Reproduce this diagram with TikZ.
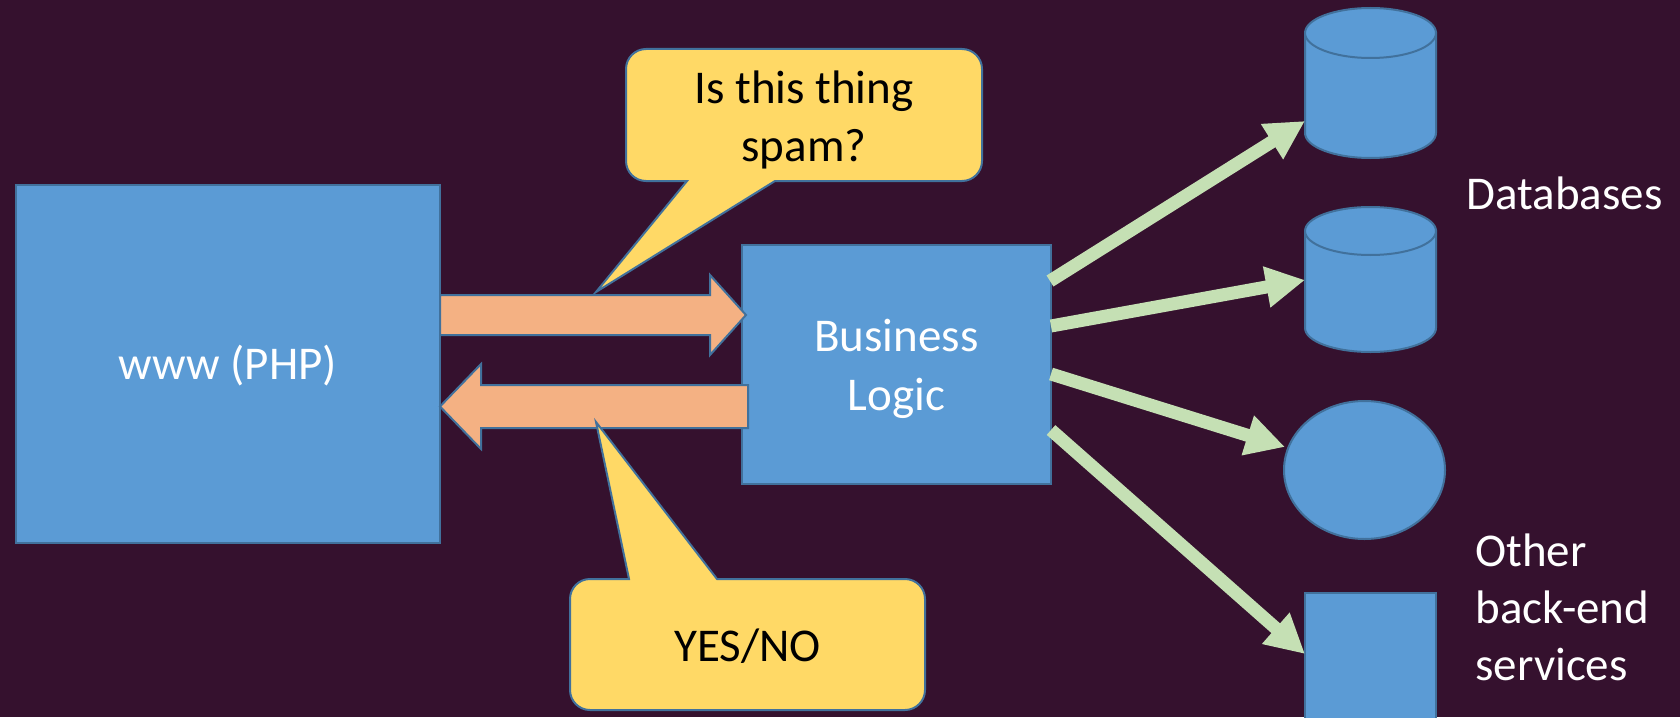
\documentclass[tikz,border=0pt]{standalone}
\usepackage{fontspec}
\setmainfont{Carlito}
\usetikzlibrary{arrows.meta}
\definecolor{bg}{RGB}{53,17,46}
\definecolor{boxblue}{RGB}{91,155,213}
\definecolor{edgeblue}{RGB}{65,113,156}
\definecolor{calloutyellow}{RGB}{255,217,102}
\definecolor{blockorange}{RGB}{244,177,131}
\definecolor{linkgreen}{RGB}{197,224,180}
\begin{document}
\begin{tikzpicture}[x=0.5pt,y=-0.5pt,
  box/.style={draw=edgeblue, fill=boxblue, line width=1pt, inner sep=0pt},
  boxtext/.style={text=white, inner sep=0pt, font=\fontsize{23.5}{29.5}\selectfont, align=center},
  shapeblue/.style={draw=edgeblue, fill=boxblue, line width=1pt},
  bubble/.style={draw=edgeblue, fill=calloutyellow, line width=1pt, line join=miter},
  bubbletext/.style={text=black, font=\fontsize{23.5}{29}\selectfont, align=center, inner sep=0pt},
  sidetext/.style={text=white, font=\fontsize{23.5}{28.5}\selectfont, align=left, inner sep=0pt},
  blockarrow/.style={draw=edgeblue, fill=blockorange, line width=1pt, line join=miter},
  link/.style={draw=linkgreen, line width=6.5pt, -{Triangle[width=19.5pt,length=19.5pt]}}
]
\fill[bg] (0,0) rectangle (1680,717);
\useasboundingbox (0,0) rectangle (1680,717);
\clip (0,0) rectangle (1680,717);

% main boxes
\node[box, minimum width=212pt, minimum height=179pt] (www) at (228,364) {};
\node[boxtext] (wwwtext) at (228,366) {www (PHP)};
\node[box, minimum width=154.5pt, minimum height=119.5pt] (biz) at (896.5,364.5) {};
\node[boxtext] (biztext) at (896.5,369) {Business\\Logic};

% block arrows
\path[blockarrow] (440,295) -- (710,295) -- (710,275) -- (746,315) -- (710,355) -- (710,335) -- (440,335) -- cycle;
\path[blockarrow] (748,385) -- (481,385) -- (481,364) -- (440,406.5) -- (481,449) -- (481,428) -- (748,428) -- cycle;

% callouts
\path[bubble] (626,69) arc (180:270:20) -- (962,49) arc (270:360:20) -- (982,161) arc (0:90:20)
  -- (775,181) -- (596,292) -- (687,181) -- (646,181) arc (90:180:20) -- cycle;
\node[bubbletext] (q) at (804,120) {Is this thing\\spam?};

\path[bubble] (570,599) arc (180:270:20) -- (629,579) -- (596,422) -- (717,579) -- (905,579) arc (270:360:20)
  -- (925,690) arc (0:90:20) -- (590,710) arc (90:180:20) -- cycle;
\node[bubbletext] (ans) at (747.5,646) {YES/NO};

% back-end shapes
\path[shapeblue] (1305,33) -- (1305,133) arc (180:0:65.5 and 25) -- (1436,33) -- cycle;
\path[shapeblue] (1370.5,33) ellipse [x radius=65.5, y radius=25];
\path[shapeblue] (1305,231) -- (1305,328) arc (180:0:65.5 and 24) -- (1436,231) -- cycle;
\path[shapeblue] (1370.5,231) ellipse [x radius=65.5, y radius=24];
\path[shapeblue] (1364.5,470) ellipse [x radius=80.5, y radius=69];
\path[shapeblue] (1305,593) rectangle (1436,760);

% labels
\node[sidetext, anchor=base west] (dblabel) at (1466,209) {Databases};
\node[sidetext, anchor=north west] (svclabel) at (1475,533) {Other\\back-end\\services};

% green links
\coordinate (s1) at (1050,281); \coordinate (t1) at (1305,121);
\coordinate (s2) at (1051,326); \coordinate (t2) at (1305,280);
\coordinate (s3) at (1051,374); \coordinate (t3) at (1285,447);
\coordinate (s4) at (1051,430); \coordinate (t4) at (1305,654);
\draw[link] (s1) -- (t1);
\draw[link] (s2) -- (t2);
\draw[link] (s3) -- (t3);
\draw[link] (s4) -- (t4);
\end{tikzpicture}
\end{document}
